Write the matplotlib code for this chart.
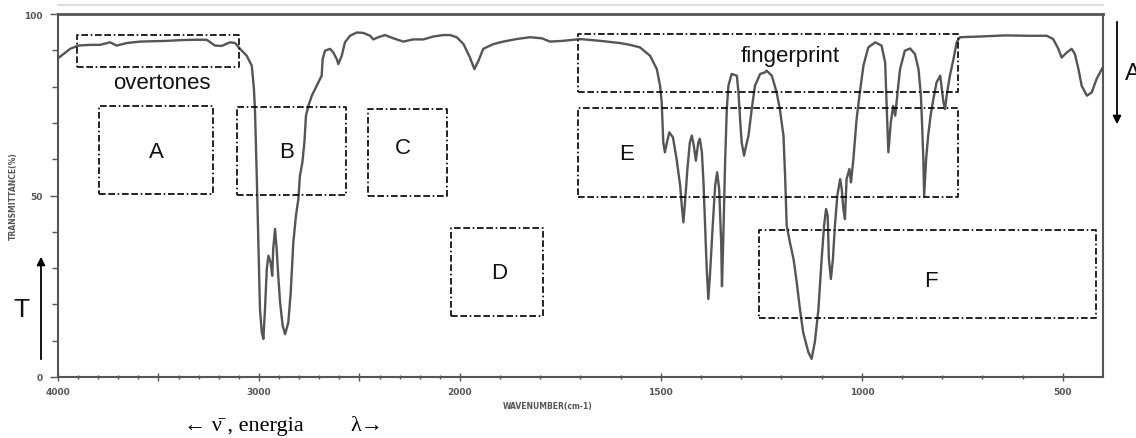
import numpy as np
import matplotlib
matplotlib.use("Agg")
import matplotlib.pyplot as plt

# ---------------- data ----------------
wavenumber = [4000, 3940, 3899, 3841, 3791, 3741, 3708, 3658, 3592, 3526, 3459, 3393,
              3327, 3260, 3219, 3186, 3144, 3119, 3094, 3061, 3036, 3031, 3025, 3020,
              3011, 3003, 2995, 2986, 2978, 2970, 2961, 2953, 2942, 2934, 2929, 2920,
              2912, 2904, 2895, 2882, 2870, 2854, 2842, 2829, 2816, 2804, 2796, 2784,
              2774, 2766, 2754, 2737, 2721, 2696, 2688, 2683, 2671, 2646, 2630, 2613,
              2605, 2588, 2572, 2547, 2514, 2481, 2447, 2431, 2406, 2373, 2331, 2282,
              2232, 2182, 2132, 2083, 2049, 2016, 1991, 1975, 1964, 1954, 1942, 1917,
              1892, 1859, 1826, 1796, 1776, 1743, 1701, 1651, 1602, 1577, 1552, 1527,
              1510, 1502, 1498, 1494, 1490, 1485, 1479, 1470, 1461, 1452, 1448, 1444,
              1440, 1434, 1428, 1423, 1418, 1413, 1407, 1403, 1398, 1394, 1390, 1386,
              1382, 1378, 1371, 1365, 1360, 1355, 1350, 1348, 1345, 1340, 1336, 1332,
              1324, 1311, 1307, 1303, 1299, 1293, 1288, 1282, 1274, 1266, 1253, 1241,
              1237, 1224, 1212, 1204, 1195, 1191, 1187, 1179, 1170, 1162, 1154, 1146,
              1133, 1125, 1117, 1108, 1100, 1094, 1089, 1085, 1082, 1077, 1072, 1067,
              1061, 1054, 1050, 1046, 1042, 1038, 1031, 1027, 1021, 1013, 1005, 996,
              984, 967, 951, 942, 938, 934, 928, 922, 917, 912, 905, 893,
              880, 868, 859, 853, 850, 847, 845, 840, 835, 829, 822, 814,
              805, 801, 797, 793, 789, 781, 772, 764, 756, 706, 644, 582,
              557, 540, 524, 511, 503, 490, 478, 470, 461, 453, 440, 428,
              416, 403, 400]
transmittance = [87.8, 90.4, 91.3, 91.5, 91.5, 92.2, 91.3, 92.0, 92.4, 92.5, 92.6, 92.8,
                 92.9, 92.9, 91.3, 91.2, 92.2, 92.0, 90.4, 88.5, 85.8, 83.0, 79.3, 73.8,
                 55.5, 37.1, 18.7, 12.3, 10.5, 18.7, 29.8, 33.4, 31.6, 27.9, 35.3, 40.8,
                 35.3, 27.9, 20.6, 14.1, 11.8, 15.0, 23.3, 37.1, 44.4, 49.0, 55.5, 59.1,
                 64.6, 72.0, 74.7, 77.5, 79.3, 82.1, 83.0, 87.6, 89.9, 90.4, 89.4, 87.6,
                 86.2, 88.5, 92.2, 94.0, 94.9, 94.8, 94.0, 93.0, 93.6, 94.2, 93.3, 92.4,
                 93.0, 93.0, 93.8, 94.2, 94.2, 93.6, 91.7, 88.0, 84.8, 87.1, 90.4, 91.7,
                 92.4, 93.1, 93.6, 93.3, 92.4, 92.6, 93.1, 92.6, 92.0, 91.5, 90.8, 88.5,
                 84.8, 80.2, 75.7, 64.6, 61.9, 64.6, 67.4, 66.0, 60.1, 52.7, 47.2, 42.6,
                 48.1, 57.3, 64.6, 66.5, 63.7, 59.6, 64.6, 65.6, 61.9, 53.6, 41.7, 29.8,
                 21.5, 27.9, 41.7, 52.7, 56.4, 51.8, 37.1, 25.0, 37.1, 60.1, 73.8, 80.2,
                 83.5, 83.0, 78.4, 71.1, 64.6, 61.0, 63.7, 66.5, 73.8, 80.2, 83.5, 83.9,
                 84.4, 83.0, 78.4, 73.8, 66.5, 55.5, 41.7, 37.1, 32.5, 26.1, 18.7, 12.3,
                 6.8, 5.0, 9.6, 18.7, 32.5, 41.7, 46.3, 44.4, 32.5, 27.0, 32.5, 41.7,
                 50.0, 54.5, 51.8, 46.3, 43.5, 54.5, 57.3, 53.6, 60.1, 71.1, 78.4, 85.8,
                 90.8, 92.2, 91.3, 86.6, 73.8, 61.9, 70.1, 74.7, 72.0, 77.5, 84.8, 89.9,
                 90.5, 89.0, 84.8, 77.5, 69.2, 60.1, 50.0, 60.1, 66.5, 72.0, 76.6, 81.2,
                 83.0, 79.3, 75.7, 73.8, 77.5, 83.0, 87.6, 92.2, 93.6, 93.8, 94.1, 94.0,
                 94.0, 94.0, 93.1, 90.4, 88.0, 89.4, 90.4, 89.0, 84.8, 80.2, 77.5, 78.4,
                 82.1, 84.8, 85.3]

major_ticks = [4000, 3500, 3000, 2500, 2000, 1500, 1000, 500]
major_labels = ['4000', '', '3000', '', '2000', '1500', '1000', '500']
y_ticks = [0, 50, 100]
y_labels = ['0', '50', '100']

# annotation regions: (label, wn_left, wn_right, T_bottom, T_top)
regions = [
    ('overtones', 3904, 3098, 85.3, 94.3),
    ('A', 3794, 3227, 50.4, 74.7),
    ('B', 3108, 2567, 50.1, 74.3),
    ('C', 2456, 2066, 49.8, 73.8),
    ('D', 2046, 1794, 16.7, 41.0),
    ('fingerprint', 1707, 762, 78.6, 94.5),
    ('E', 1707, 762, 49.5, 74.0),
    ('F', 1256, 418, 16.2, 40.6),
]
# label positions (wn, T baseline)
region_labels = [
    ('overtones', 3482, 79.6),
    ('A', 3510, 60.7),
    ('B', 2865, 60.5),
    ('C', 2284, 61.7),
    ('D', 1902, 27.3),
    ('fingerprint', 1179, 87.0),
    ('E', 1586, 60.0),
    ('F', 829, 25.0),
]

# ---------------- figure ----------------
W, H = 1136, 439
fig = plt.figure(figsize=(W / 100, H / 100), dpi=100)
ax = fig.add_axes([58 / W, 1 - 378 / H, 1045 / W, 363 / H])


def fwd(x):
    x = np.asarray(x, dtype=float)
    return np.where(x <= 2000, x, 2000 + (x - 2000) / 2.0)


def inv(v):
    v = np.asarray(v, dtype=float)
    return np.where(v <= 2000, v, 2000 + (v - 2000) * 2.0)


ax.set_xscale('function', functions=(fwd, inv))
ax.plot(wavenumber, transmittance, color='#555555', lw=1.7, solid_joinstyle='round')
ax.set_xlim(4000, 400)
ax.set_ylim(0, 100)

ax.set_xticks(major_ticks)
ax.set_xticklabels(major_labels)
ax.set_xticks([w for w in range(500, 4000, 100) if w not in major_ticks], minor=True)
ax.set_yticks(y_ticks)
ax.set_yticklabels(y_labels)
ax.set_yticks([v for v in range(10, 100, 10) if v not in y_ticks], minor=True)

ax.tick_params(axis='x', which='major', direction='inout', length=6, width=1.0,
               color='#555555', labelsize=6.5, labelcolor='#555555', pad=4)
ax.tick_params(axis='x', which='minor', direction='inout', length=3, width=1.0,
               color='#555555')
ax.tick_params(axis='y', which='major', direction='out', length=6, width=1.0,
               color='#555555', labelsize=6.5, labelcolor='#555555', pad=5)
ax.tick_params(axis='y', which='minor', direction='out', length=4, width=1.0,
               color='#555555')
for lab in ax.get_xticklabels() + ax.get_yticklabels():
    lab.set_fontweight('bold')

for name, sp in ax.spines.items():
    sp.set_color('#555555')
    sp.set_linewidth(1.5)
ax.spines['top'].set_linewidth(2.0)

ax.set_xlabel('WAVENUMBER(cm-1)', fontsize=5.5, fontweight='bold', color='#555555')
ax.xaxis.set_label_coords((548 - 58) / 1045, (378 - 402) / 363)
ax.set_ylabel('TRANSMITTANCE(%)', fontsize=5.5, fontweight='bold', color='#555555')
ax.yaxis.set_label_coords((18 - 58) / 1045, 0.5)

# faint line above the frame
ax.plot([0, 1], [(378 - 6) / 363] * 2, transform=ax.transAxes, color='#dddddd',
        lw=1.5, clip_on=False)

# region boxes
box_style = (0, (4, 1.6, 4, 1.6, 1, 1.6))
for name, w0, w1, t0, t1 in regions:
    xs = [w0, w1, w1, w0, w0]
    ys = [t0, t0, t1, t1, t0]
    ax.plot(xs, ys, color='black', lw=1.2, linestyle=box_style, clip_on=False)

sans = ['Liberation Sans', 'DejaVu Sans']
for name, w, t in region_labels:
    ax.text(w, t, name, ha='center', va='baseline', fontsize=16, family=sans,
            color='#111111')


def fx(px):
    return px / W


def fy(py):
    return 1 - py / H


# T arrow (left)
fig.add_artist(matplotlib.patches.FancyArrowPatch(
    (fx(41), fy(363)), (fx(41), fy(255)), transform=fig.transFigure,
    arrowstyle='-|>', mutation_scale=12, color='black', lw=1.3))
fig.text(fx(21), fy(316.7), 'T', ha='center', va='baseline', fontsize=19,
         family=sans, color='#111111')

# A arrow (right)
fig.add_artist(matplotlib.patches.FancyArrowPatch(
    (fx(1117), fy(20)), (fx(1117), fy(128)), transform=fig.transFigure,
    arrowstyle='-|>', mutation_scale=12, color='black', lw=1.3))
fig.text(fx(1125), fy(80), 'A', ha='left', va='baseline', fontsize=17,
         family=sans, color='#111111')

# bottom text
serif = ['Liberation Serif', 'DejaVu Serif']
fig.text(fx(184), fy(431), '\u2190 \u03bd\u0304 , energia', ha='left',
         va='baseline', fontsize=16, family=serif, color='black')
fig.text(fx(350), fy(431), '\u03bb\u2192', ha='left', va='baseline',
         fontsize=16, family=serif, color='black')

fig.savefig('out.png', dpi=100)
